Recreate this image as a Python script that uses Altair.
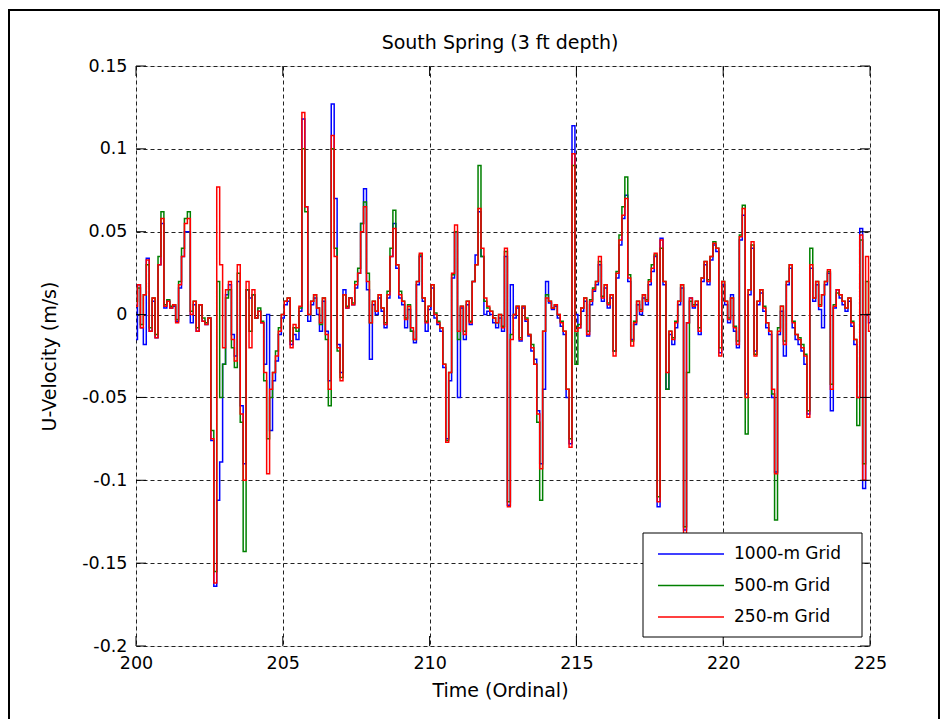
import altair as alt
import pandas as pd

red_1 = [0.005, 0.018, -0.008, 0.012, 0.033, -0.01, 0.01, -0.014, 0.03, 0.058,
         0.005, 0.008, 0.004, 0.006, -0.005, 0.018, 0.035, 0.055, 0.058, 0.0,
         0.008, -0.01, 0.006, -0.004, -0.006, -0.002, -0.075, -0.162, 0.077, 0.03,
         -0.02, 0.015, 0.02, -0.015, -0.028, 0.03, -0.06, -0.1, 0.02, -0.02,
         0.015, -0.002, 0.002, -0.005, -0.035, -0.096, -0.045, -0.035, -0.025, -0.01,
         0.0, 0.008, 0.01, -0.02, -0.006, -0.008, 0.005, 0.122, 0.065, 0.0,
         0.008, 0.012, 0.004, -0.005, 0.01, -0.012, -0.045, 0.108, 0.035, -0.02,
         -0.04, 0.012, 0.004, 0.01, 0.006, 0.018, 0.025, 0.05, 0.065, 0.02,
         -0.005, 0.008, 0.002, 0.012, 0.004, -0.006, 0.012, 0.035, 0.052, 0.03,
         0.012, 0.008, -0.003, 0.005, -0.008, -0.015, 0.02, 0.037, 0.01, -0.005,
         0.005, 0.018, 0.0, -0.005, -0.008, -0.03, -0.077, -0.035, 0.025, 0.054,
         -0.01, 0.005, -0.012, 0.008, -0.005, 0.02, 0.03, 0.064, 0.04, 0.01,
         0.005, 0.002, -0.002, -0.005, 0.0, -0.008, 0.04, -0.116, -0.015, 0.0]
red_2 = [0.005, -0.015, 0.005, -0.003, -0.012, -0.02, -0.03, -0.06, -0.093, -0.01,
         0.01, 0.008, 0.004, 0.006, 0.0, -0.005, -0.01, -0.045, -0.08, 0.097,
         -0.01, -0.008, 0.004, 0.01, -0.012, 0.008, 0.015, 0.02, 0.035, 0.01,
         0.018, 0.006, 0.012, -0.025, 0.025, 0.045, 0.06, 0.07, 0.022, -0.019,
         -0.005, 0.008, 0.002, 0.012, 0.008, 0.02, 0.028, 0.037, -0.113, 0.045,
         0.02, -0.035, -0.01, -0.015, -0.005, 0.008, 0.018, -0.133, -0.005, 0.01,
         0.005, 0.008, -0.01, 0.022, 0.032, 0.02, 0.035, 0.043, 0.04, -0.025,
         0.02, 0.008, -0.003, 0.01, -0.008, -0.018, 0.047, 0.064, -0.05, 0.015,
         0.044, -0.025, 0.008, 0.015, 0.004, -0.005, -0.01, -0.045, -0.096, -0.01,
         0.005, -0.018, 0.02, 0.03, -0.005, -0.012, -0.015, -0.02, -0.025, -0.062,
         0.03, 0.01, 0.02, 0.005, 0.012, 0.02, 0.027, -0.045, 0.005, 0.015,
         0.012, 0.008, 0.004, 0.01, -0.005, -0.015, -0.05, 0.048, -0.1, 0.035,
         -0.01]
red_250m = red_1 + red_2

blue_1 = [-0.015, 0.018, -0.008, -0.018, 0.034, -0.01, 0.008, -0.014, 0.03, 0.055,
          0.004, 0.008, 0.004, 0.005, -0.004, 0.016, 0.035, 0.05, 0.05, -0.005,
          0.006, -0.01, 0.006, -0.004, -0.006, -0.002, -0.076, -0.164, -0.112, -0.089,
          -0.03, 0.012, 0.018, -0.012, -0.025, 0.02, -0.055, -0.09, 0.015, 0.01,
          0.012, -0.002, 0.002, -0.005, -0.03, 0.0, -0.07, -0.04, -0.028, -0.012,
          -0.002, 0.006, 0.008, -0.018, -0.012, -0.015, 0.002, 0.118, 0.065, -0.004,
          0.006, 0.01, 0.0, -0.01, 0.008, -0.01, -0.04, 0.127, 0.07, -0.018,
          -0.035, 0.015, 0.004, 0.01, 0.006, 0.016, 0.025, 0.055, 0.076, 0.015,
          -0.027, 0.006, 0.0, 0.01, 0.002, -0.008, 0.01, 0.035, 0.055, 0.028,
          0.01, 0.006, -0.008, 0.003, -0.01, -0.017, 0.018, 0.035, 0.008, -0.01,
          0.003, 0.016, -0.002, -0.006, -0.01, -0.032, -0.075, -0.04, 0.022, 0.05,
          -0.05, 0.004, -0.015, 0.006, -0.006, 0.02, 0.036, 0.062, 0.035, 0.0,
          0.002, 0.0, -0.005, -0.008, -0.002, -0.01, 0.035, -0.115, 0.018, -0.002]
blue_2 = [0.004, -0.016, 0.004, -0.004, -0.013, -0.022, -0.027, -0.058, -0.09, -0.045,
          0.02, 0.007, 0.003, 0.005, -0.002, -0.007, -0.012, -0.05, -0.078, 0.114,
          0.0, -0.008, 0.002, 0.008, -0.013, 0.006, 0.014, 0.018, 0.03, 0.008,
          0.016, 0.004, 0.01, -0.022, 0.022, 0.042, 0.058, 0.072, 0.02, -0.015,
          -0.006, 0.006, 0.0, 0.01, 0.006, 0.018, 0.026, 0.035, -0.116, 0.046,
          0.018, -0.045, -0.012, -0.018, -0.008, 0.006, 0.016, -0.13, -0.005, 0.01,
          0.004, 0.006, -0.012, 0.02, 0.03, 0.018, 0.033, 0.042, 0.038, -0.023,
          0.018, 0.006, -0.005, 0.012, -0.01, -0.02, 0.045, 0.06, -0.048, 0.012,
          0.04, -0.022, 0.006, 0.013, 0.002, -0.008, -0.012, -0.05, -0.095, -0.012,
          0.002, -0.025, 0.018, 0.028, -0.008, -0.015, -0.018, -0.022, -0.03, -0.06,
          0.028, 0.008, 0.018, 0.003, -0.008, 0.018, 0.025, -0.058, 0.004, 0.015,
          0.01, 0.006, 0.002, 0.008, -0.007, -0.018, -0.05, 0.052, -0.105, 0.0,
          -0.005]
blue_1000m = blue_1 + blue_2

green_1 = [0.008, 0.016, -0.006, 0.012, 0.03, -0.008, 0.01, -0.012, 0.035, 0.062,
           0.006, 0.009, 0.005, 0.006, -0.003, 0.02, 0.04, 0.058, 0.062, 0.002,
           0.008, -0.008, 0.006, -0.002, -0.005, -0.002, -0.07, -0.155, 0.02, -0.05,
           -0.03, 0.01, 0.015, -0.02, -0.032, 0.025, -0.065, -0.143, 0.015, -0.01,
           0.012, -0.002, 0.004, -0.004, -0.04, -0.075, -0.05, -0.035, -0.022, -0.008,
           0.0, 0.008, 0.01, -0.016, -0.008, -0.01, 0.004, 0.1, 0.062, 0.0,
           0.008, 0.012, 0.004, -0.006, 0.01, -0.015, -0.055, 0.1, 0.04, -0.022,
           -0.038, 0.012, 0.005, 0.01, 0.007, 0.02, 0.028, 0.055, 0.068, 0.025,
           -0.005, 0.008, 0.002, 0.012, 0.004, -0.005, 0.014, 0.04, 0.063, 0.03,
           0.014, 0.008, -0.002, 0.006, -0.01, -0.015, 0.02, 0.036, 0.01, -0.004,
           0.005, 0.018, 0.001, -0.004, -0.008, -0.03, -0.076, -0.035, 0.024, 0.05,
           -0.015, 0.005, -0.01, 0.008, -0.004, 0.02, 0.03, 0.09, 0.035, 0.008,
           0.004, 0.002, -0.002, -0.005, 0.0, -0.007, 0.038, -0.113, -0.012, 0.0]
green_2 = [0.005, -0.014, 0.005, -0.002, -0.012, -0.018, -0.03, -0.065, -0.112, -0.01,
           0.012, 0.008, 0.004, 0.006, 0.0, -0.004, -0.01, -0.045, -0.075, 0.09,
           -0.03, -0.006, 0.004, 0.01, -0.01, 0.009, 0.016, 0.02, 0.032, 0.011,
           0.018, 0.007, 0.012, -0.022, 0.026, 0.048, 0.065, 0.083, 0.024, -0.016,
           -0.004, 0.008, 0.003, 0.012, 0.009, 0.021, 0.03, 0.036, -0.11, 0.04,
           0.02, -0.045, -0.01, -0.014, -0.004, 0.008, 0.018, -0.128, -0.035, 0.008,
           0.006, 0.008, -0.008, 0.022, 0.032, 0.021, 0.035, 0.044, 0.04, -0.02,
           0.02, 0.008, -0.002, 0.01, -0.007, -0.016, 0.048, 0.066, -0.072, 0.015,
           0.042, -0.024, 0.008, 0.015, 0.005, -0.005, -0.01, -0.048, -0.124, -0.008,
           0.005, -0.016, 0.02, 0.03, -0.004, -0.012, -0.014, -0.018, -0.024, -0.058,
           0.04, 0.01, 0.02, 0.006, 0.012, 0.02, 0.026, -0.042, 0.006, 0.013,
           0.012, 0.008, 0.004, 0.01, -0.004, -0.015, -0.067, 0.045, -0.09, 0.02,
           0.0]
green_500m = green_1 + green_2

# sampling times (every 0.1 day)
times = [round(200 + i / 10, 1) for i in range(len(red_250m))]

series_names = ["1000-m Grid", "500-m Grid", "250-m Grid"]
series_colors = ["#0000FF", "#008000", "#FF0000"]
x_ticks = [200, 205, 210, 215, 220, 225]
y_ticks = [-0.2, -0.15, -0.1, -0.05, 0, 0.05, 0.1, 0.15]

FONT = "DejaVu Sans"
W, H = 734, 580

xscale = alt.Scale(domain=[200, 225], nice=False, zero=False)
yscale = alt.Scale(domain=[-0.2, 0.15], nice=False, zero=False)
cscale = alt.Scale(domain=series_names, range=series_colors)

xaxis = alt.Axis(values=x_ticks, title="Time (Ordinal)", grid=True, gridDash=[4, 3],
                 gridColor="#222222", gridWidth=1, domain=False, ticks=False, tickSize=0,
                 labelPadding=8, labelFlush=False, labelFontSize=17.5, labelFont=FONT,
                 labelColor="black", titleFont=FONT, titleFontSize=19, titleFontWeight="normal",
                 titleColor="black", titleX=364, titleY=44, titleBaseline="middle",
                 titleAnchor="middle")
yaxis = alt.Axis(values=y_ticks, title="U-Velocity (m/s)", grid=True, gridDash=[4, 3],
                 gridColor="#222222", gridWidth=1, domain=False, ticks=False, tickSize=0,
                 labelPadding=9, labelFontSize=17.5, labelFont=FONT, labelColor="black",
                 labelExpr="toString(round(datum.value*100)/100)", labelOverlap=False,
                 titleFont=FONT, titleFontSize=19, titleFontWeight="normal", titleColor="black",
                 titleX=-87, titleY=290, titleBaseline="middle", titleAnchor="middle")
legend = alt.Legend(title=None, orient="none", legendX=521, legendY=478,
                    symbolType="stroke", symbolSize=4356, symbolStrokeWidth=1.5,
                    labelFontSize=17, labelFont=FONT, labelColor="black", labelOffset=9,
                    padding=0, clipHeight=20, rowPadding=11.5)


def line_layer(values, name):
    df = pd.DataFrame({"t": times, "v": values, "series": name})
    return alt.Chart(df).mark_line(strokeWidth=1.5, clip=True, interpolate="step").encode(
        x=alt.X("t:Q", scale=xscale, axis=xaxis),
        y=alt.Y("v:Q", scale=yscale, axis=yaxis),
        color=alt.Color("series:N", scale=cscale, legend=legend),
    )


blue_layer = line_layer(blue_1000m, series_names[0])
green_layer = line_layer(green_500m, series_names[1])
red_layer = line_layer(red_250m, series_names[2])

one = pd.DataFrame({"k": [0]})
# legend box (white, black outline) drawn over the lines
legend_box = alt.Chart(one).mark_rect(fill="white", stroke="black", strokeWidth=1).encode(
    x=alt.value(507), x2=alt.value(726), y=alt.value(467), y2=alt.value(571))
# figure frame
frame = alt.Chart(one).mark_rect(fillOpacity=0, stroke="black", strokeWidth=2).encode(
    x=alt.value(-127), x2=alt.value(803), y=alt.value(-56), y2=alt.value(700))

xt = pd.DataFrame({"t": x_ticks})
yt = pd.DataFrame({"v": y_ticks})
tick_bottom = alt.Chart(xt).mark_rule(color="black", strokeWidth=1).encode(
    x=alt.X("t:Q", scale=xscale), y=alt.value(H), y2=alt.value(H - 10))
tick_top = alt.Chart(xt).mark_rule(color="black", strokeWidth=1).encode(
    x=alt.X("t:Q", scale=xscale), y=alt.value(0), y2=alt.value(10))
tick_left = alt.Chart(yt).mark_rule(color="black", strokeWidth=1).encode(
    y=alt.Y("v:Q", scale=yscale), x=alt.value(0), x2=alt.value(10))
tick_right = alt.Chart(yt).mark_rule(color="black", strokeWidth=1).encode(
    y=alt.Y("v:Q", scale=yscale), x=alt.value(W), x2=alt.value(W - 10))

chart = alt.layer(
    blue_layer, green_layer, red_layer,
    tick_bottom, tick_top, tick_left, tick_right,
    legend_box, frame,
).properties(
    width=W, height=H,
    # the figure frame reaches above the plot, so the title is pulled back down with dy
    title=alt.TitleParams("South Spring (3 ft depth)", font=FONT, fontSize=19,
                          fontWeight="normal", color="black", anchor="middle",
                          frame="group", offset=0, baseline="middle", dx=-3, dy=53),
    autosize=alt.AutoSizeParams(type="none"),
    padding={"left": 136, "top": 66, "right": 76, "bottom": 73},
).configure_view(stroke="black", strokeWidth=1).configure(background="white")

chart.save("out.html", embed_options={"renderer": "svg", "actions": False})
